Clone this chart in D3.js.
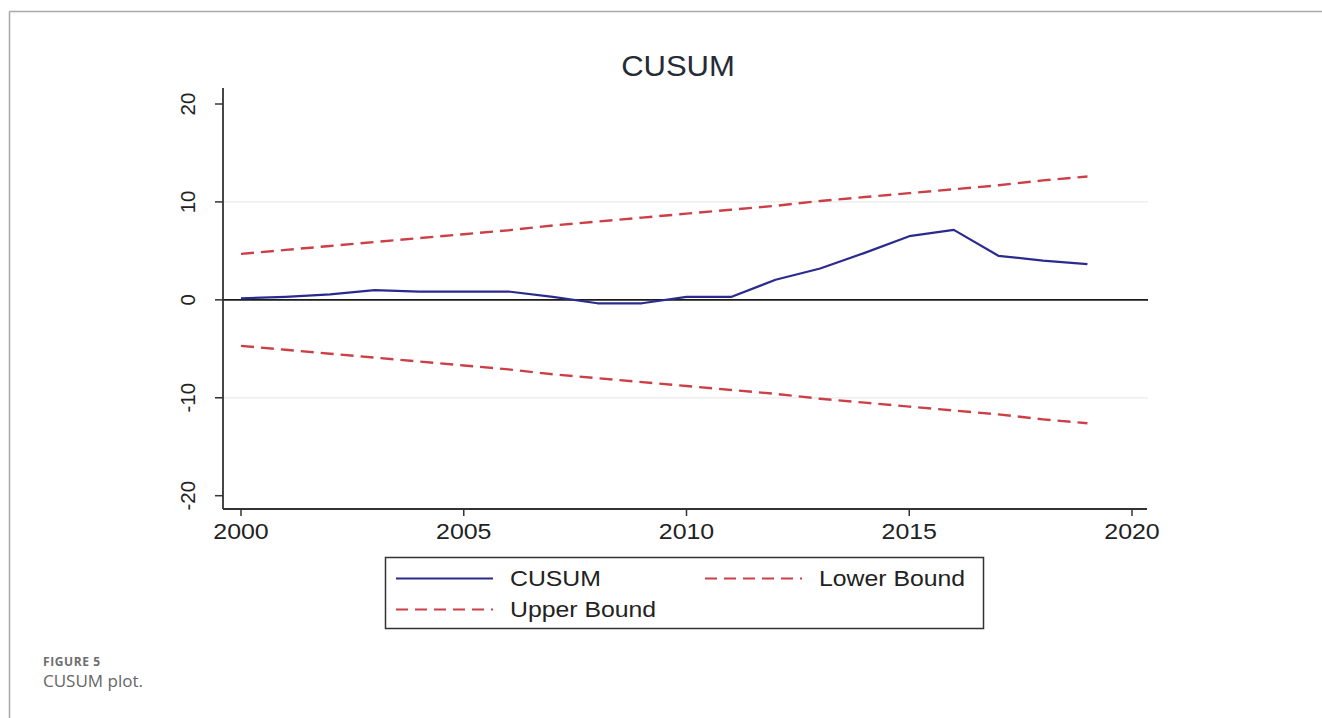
<!DOCTYPE html>
<html>
<head>
<meta charset="utf-8">
<script src="https://cdn.jsdelivr.net/npm/d3@7/dist/d3.min.js"></script>
<style>
  html, body { margin: 0; padding: 0; background: #fff; }
  svg { display: block; }
</style>
</head>
<body>
<svg id="chart" width="1322" height="718"></svg>
<script>
// ---- data ----
const years = [2000, 2001, 2002, 2003, 2004, 2005, 2006, 2007, 2008, 2009,
               2010, 2011, 2012, 2013, 2014, 2015, 2016, 2017, 2018, 2019];
const cusum = [0.15, 0.3, 0.55, 1.0, 0.85, 0.85, 0.85, 0.3, -0.35, -0.35,
               0.3, 0.3, 2.05, 3.2, 4.8, 6.5, 7.15, 4.5, 4.0, 3.65];
const upperBound = [4.7, 5.1, 5.5, 5.9, 6.3, 6.7, 7.1, 7.6, 8.0, 8.4,
                    8.8, 9.2, 9.6, 10.1, 10.5, 10.9, 11.3, 11.7, 12.2, 12.6];
const lowerBound = [-4.7, -5.1, -5.5, -5.9, -6.3, -6.7, -7.1, -7.6, -8.0, -8.4,
                    -8.8, -9.2, -9.6, -10.1, -10.5, -10.9, -11.3, -11.7, -12.2, -12.6];
const xTicks = [2000, 2005, 2010, 2015, 2020];
const yTicks = [-20, -10, 0, 10, 20];
const gridValues = [-10, 10];

const titleText = "CUSUM";
const legendLabels = ["CUSUM", "Lower Bound", "Upper Bound"];
const figureLabel = "FIGURE 5";
const figureCaption = "CUSUM plot.";

// ---- layout ----
const svg = d3.select("#chart");
const FONT = "'Liberation Sans', Arial, Helvetica, sans-serif";
const STRETCH = 1.16;          // text in the plot is drawn a little wide
const plot = { left: 223, right: 1148, top: 88, bottom: 509 };

const x = d3.scaleLinear().domain([2000, 2020]).range([241, 1132]);
const y = d3.scaleLinear().domain([-20, 20]).range([495.7, 104]);

const colCusum = "#2b2b8e";
const colBound = "#cc3f47";
const dash = "13,7";

// page frame
svg.append("line").attr("x1", 9.5).attr("x2", 1322).attr("y1", 11.5).attr("y2", 11.5)
  .attr("stroke", "#a8a8a8").attr("stroke-width", 1.5);
svg.append("line").attr("x1", 9.5).attr("x2", 9.5).attr("y1", 11.5).attr("y2", 718)
  .attr("stroke", "#a8a8a8").attr("stroke-width", 1.5);

// title
svg.append("text")
  .attr("transform", `translate(678,76) scale(1.07,1)`)
  .attr("text-anchor", "middle")
  .attr("font-family", FONT).attr("font-size", 29)
  .attr("fill", "#262b36")
  .text(titleText);

// gridlines
svg.append("g").selectAll("line").data(gridValues).join("line")
  .attr("x1", plot.left).attr("x2", plot.right)
  .attr("y1", d => y(d)).attr("y2", d => y(d))
  .attr("stroke", "#ebebeb").attr("stroke-width", 1.2);

// zero reference line
svg.append("line")
  .attr("x1", plot.left).attr("x2", plot.right)
  .attr("y1", y(0)).attr("y2", y(0))
  .attr("stroke", "#1a1a1a").attr("stroke-width", 1.6);

// series
const line = d3.line().x((d, i) => x(years[i])).y(d => y(d));

svg.append("path").datum(upperBound).attr("d", line)
  .attr("fill", "none").attr("stroke", colBound).attr("stroke-width", 2.4)
  .attr("stroke-dasharray", dash);
svg.append("path").datum(lowerBound).attr("d", line)
  .attr("fill", "none").attr("stroke", colBound).attr("stroke-width", 2.4)
  .attr("stroke-dasharray", dash);
svg.append("path").datum(cusum).attr("d", line)
  .attr("fill", "none").attr("stroke", colCusum).attr("stroke-width", 2.2)
  .attr("stroke-linejoin", "round");

// axes lines
const axisColor = "#333";
svg.append("line").attr("x1", plot.left).attr("x2", plot.left)
  .attr("y1", plot.top).attr("y2", plot.bottom)
  .attr("stroke", axisColor).attr("stroke-width", 1.8);
svg.append("line").attr("x1", plot.left).attr("x2", plot.right - 1)
  .attr("y1", plot.bottom).attr("y2", plot.bottom)
  .attr("stroke", axisColor).attr("stroke-width", 1.8);

// y ticks and rotated labels
const yAxis = svg.append("g");
yAxis.selectAll("line").data(yTicks).join("line")
  .attr("x1", plot.left - 8).attr("x2", plot.left)
  .attr("y1", d => y(d)).attr("y2", d => y(d))
  .attr("stroke", axisColor).attr("stroke-width", 1.5);
yAxis.selectAll("text").data(yTicks).join("text")
  .attr("transform", d => `translate(194.5,${y(d)}) rotate(-90)`)
  .attr("text-anchor", "middle")
  .attr("font-family", FONT).attr("font-size", 20.5)
  .attr("fill", "#222")
  .text(d => d);

// x ticks and labels
const xAxis = svg.append("g");
xAxis.selectAll("line").data(xTicks).join("line")
  .attr("x1", d => x(d)).attr("x2", d => x(d))
  .attr("y1", plot.bottom).attr("y2", plot.bottom + 7)
  .attr("stroke", axisColor).attr("stroke-width", 1.5);
xAxis.selectAll("text").data(xTicks).join("text")
  .attr("transform", d => `translate(${x(d)},538.5) scale(${STRETCH},1)`)
  .attr("text-anchor", "middle")
  .attr("font-family", FONT).attr("font-size", 21.5)
  .attr("fill", "#222")
  .text(d => d);

// legend
const lg = svg.append("g");
lg.append("rect").attr("x", 385.5).attr("y", 557.5).attr("width", 598).attr("height", 71)
  .attr("fill", "#fff").attr("stroke", "#333").attr("stroke-width", 1.5);
const legendItems = [
  { label: legendLabels[0], color: colCusum, dash: null, lx: 396, ly: 578.5 },
  { label: legendLabels[1], color: colBound, dash: "12,7", lx: 705, ly: 578.5 },
  { label: legendLabels[2], color: colBound, dash: "12,7", lx: 396, ly: 609.5 }
];
legendItems.forEach(it => {
  lg.append("line")
    .attr("x1", it.lx).attr("x2", it.lx + 97)
    .attr("y1", it.ly).attr("y2", it.ly)
    .attr("stroke", it.color).attr("stroke-width", 2)
    .attr("stroke-dasharray", it.dash);
  lg.append("text")
    .attr("transform", `translate(${it.lx + 114},${it.ly + 7.5}) scale(${STRETCH},1)`)
    .attr("font-family", FONT).attr("font-size", 21.4)
    .attr("fill", "#222")
    .text(it.label);
});

// figure caption
svg.append("text")
  .attr("x", 43).attr("y", 666)
  .attr("font-family", "'Open Sans', 'Noto Sans', sans-serif")
  .attr("font-size", 12).attr("font-weight", "bold")
  .attr("letter-spacing", 0.6)
  .attr("fill", "#6e6e6e")
  .text(figureLabel);
svg.append("text")
  .attr("x", 43).attr("y", 687)
  .attr("font-family", "'Open Sans', 'Noto Sans', sans-serif")
  .attr("font-size", 17)
  .attr("fill", "#666")
  .text(figureCaption);
</script>
</body>
</html>
